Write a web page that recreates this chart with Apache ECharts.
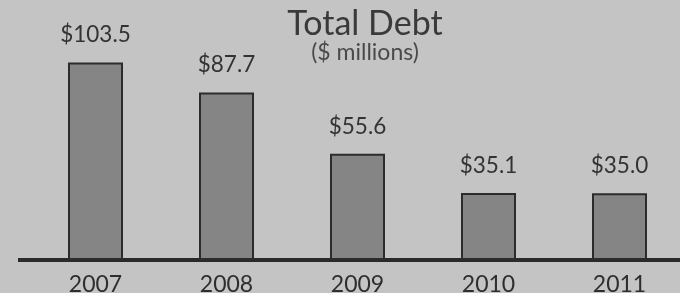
<!DOCTYPE html>
<html><head><meta charset="utf-8">
<script src="https://cdn.jsdelivr.net/npm/echarts@6/dist/echarts.min.js"></script>
<style>html,body{margin:0;padding:0;background:#c4c4c4}#c{width:680px;height:293px}</style>
</head><body><div id="c"></div>
<script>
const categories = ['2007','2008','2009','2010','2011'];
const totalDebt = [103.5, 87.7, 55.6, 35.1, 35.0];
const valueLabels = ['$103.5','$87.7','$55.6','$35.1','$35.0'];
const titleText = 'Total Debt';
const subtitleText = '($ millions)';

const chart = echarts.init(document.getElementById('c'), null, {renderer:'canvas'});
chart.setOption({
  backgroundColor: '#c4c4c4',
  animation: false,
  title: {
    text: titleText, subtext: subtitleText, left: 360, top: 2, textAlign: 'center', itemGap: 0,
    textStyle: {fontFamily: 'Lato', fontSize: 34, fontWeight: 'normal', color: '#3a3a3a'},
    subtextStyle: {fontFamily: 'Lato', fontSize: 23, color: '#4a4a4a'}
  },
  grid: {left: 30, width: 655, top: 50, bottom: 33, containLabel: false, outerBoundsMode: 'none'},
  xAxis: {
    type: 'category', data: categories,
    axisLine: {lineStyle: {color: '#2a2a2a', width: 4}},
    axisTick: {show: false},
    axisLabel: {fontFamily: 'Lato', fontSize: 23, color: '#2e2e2e', margin: 13}
  },
  yAxis: {type: 'value', min: 0, max: 110, show: false, splitLine: {show: false}},
  series: [{
    type: 'bar', data: totalDebt, barWidth: 55,
    itemStyle: {color: '#858585', borderColor: '#2c2c2c', borderWidth: 2},
    label: {
      show: true, position: 'top', distance: 16,
      formatter: p => valueLabels[p.dataIndex],
      fontFamily: 'Lato', fontSize: 22.5, color: '#333'
    }
  }],
  graphic: [{type: 'line', shape: {x1: 18, y1: 260, x2: 32, y2: 260}, style: {stroke: '#2a2a2a', lineWidth: 4}}]
});
</script></body></html>
